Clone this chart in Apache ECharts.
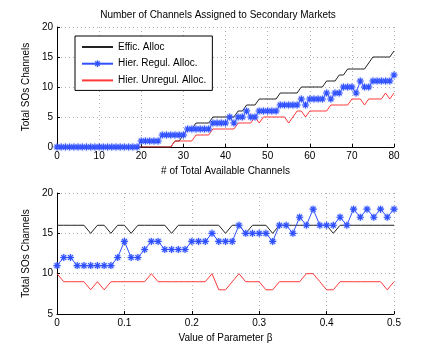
<!DOCTYPE html>
<html><head><meta charset="utf-8">
<script src="https://cdn.jsdelivr.net/npm/echarts@6/dist/echarts.min.js"></script>
<style>html,body{margin:0;padding:0;background:#fff}#c{width:436px;height:354px}</style>
</head><body><div id="c"></div>
<script>
// ---- Data ----
var titleText = 'Number of Channels Assigned to Secondary Markets';
var seriesNames = ['Effic. Alloc', 'Hier. Regul. Alloc.', 'Hier. Unregul. Alloc.'];

// Top panel: x = number of total available channels (0..80)
var topEffic = [0,0,0,0,0,0,0,0,0,0, 0,0,0,0,0,0,0,0,0,0, 0,0,0,0,0,0,0,0,1,1,
  2,3,3,4,4,4,4,5,5,5, 5,5,5,6,6,7,7,7,8,8, 8,8,8,9,9,9,9,9,10,10,
  10,10,10,10,11,11,11,12,12,13, 13,13,13,13,14,15,15,15,15,15, 16];
var topRegul = [0,0,0,0,0,0,0,0,0,0, 0,0,0,0,0,0,0,0,0,0, 1,1,1,1,1,2,2,2,2,2,
  2,3,3,3,3,3,3,4,4,4, 4,5,4,5,5,6,5,5,6,6, 6,6,6,7,7,7,7,7,8,7,
  8,8,8,8,9,8,9,9,10,10, 10,9,11,10,10,11,11,11,11,11, 12];
var topUnreg = [0,0,0,0,0,0,0,0,0,0, 0,0,0,0,0,0,0,0,0,0, 0,0,0,0,0,0,0,0,1,1,
  1,1,1,2,2,2,2,3,3,3, 3,3,3,4,4,4,4,5,4,5, 5,5,5,5,5,4,5,6,6,5,
  6,6,6,6,6,7,7,7,7,7, 8,8,8,7,8,8,8,8,9,8, 9];

// Bottom panel: x = value of parameter beta (0..0.5 step 0.01)
var botEffic = [16,16,16,16,16,15,16,16,15,16, 16,15,16,16,16,16,16,15,16,16,
  16,16,16,16,16,15,16,16,15,16, 16,16,15,16,16,16,16,16,16,16, 16,15,16,16,16,16,16,16,16,16, 16];
var botRegul = [11,12,12,11,11,11,11,11,11,12, 14,12,12,13,14,14,13,13,13,13,
  14,14,14,15,14,14,14,16,15,15, 15,15,14,16,16,15,17,16,18,16, 16,16,17,16,18,17,18,17,18,17, 18];
var botUnreg = [10,9,9,9,9,8,9,8,9,9, 9,9,9,9,10,9,9,9,9,9,
  9,9,9,10,8,8,9,10,9,9, 9,8,8,9,9,9,9,10,10,9, 8,8,9,9,9,9,9,9,9,8, 9];
var betaStep = 0.01;

var topXTicks = {min: 0, max: 80, interval: 10};
var topYTicks = {min: 0, max: 20, interval: 5};
var botXTicks = {min: 0, max: 0.5, interval: 0.1};
var botYTicks = {min: 5, max: 20, interval: 5};

var topXName = '# of Total Available Channels';
var botXName = 'Value of Parameter \u03b2';
var yName = 'Total SOs Channels';

// ---- Build ----
function pairs(arr, step) { return arr.map(function (v, i) { return [+(i * step).toFixed(4), v]; }); }

var FONT = 'Liberation Sans';
var colBlack = '#222222', colBlue = '#3050ff', colRed = '#ff3838';
var star = 'path://M0,5L10,5M5,0L5,10M1.5,1.5L8.5,8.5M8.5,1.5L1.5,8.5';
var noMark = {color: 'rgba(0,0,0,0)', borderColor: 'rgba(0,0,0,0)', borderWidth: 0};
var starStyle = {color: 'none', borderColor: colBlue, borderWidth: 1.1, shadowBlur: 2, shadowColor: 'rgba(110,140,255,0.7)'};

function xAxis(grid, t, name, labelFmt) {
  return {
    type: 'value', gridIndex: grid, min: t.min, max: t.max, interval: t.interval,
    name: name, nameLocation: 'middle', nameGap: 19,
    nameTextStyle: {fontFamily: FONT, fontSize: 10, color: '#000'},
    axisLine: {show: true, onZero: false, lineStyle: {color: '#000', width: 1}},
    axisTick: {show: true, inside: true, length: 3, lineStyle: {color: '#000'}},
    axisLabel: {fontFamily: FONT, fontSize: 10, color: '#000', margin: 4, formatter: labelFmt},
    splitLine: {show: true, lineStyle: {color: '#b0b0b0', type: [1, 3], width: 1}}
  };
}
function yAxis(grid, t) {
  return {
    type: 'value', gridIndex: grid, min: t.min, max: t.max, interval: t.interval,
    name: yName, nameLocation: 'middle', nameGap: 17,
    nameTextStyle: {fontFamily: FONT, fontSize: 10, color: '#000'},
    axisLine: {show: true, onZero: false, lineStyle: {color: '#000', width: 1}},
    axisTick: {show: true, inside: true, length: 3, lineStyle: {color: '#000'}},
    axisLabel: {fontFamily: FONT, fontSize: 10, color: '#000', margin: 4},
    splitLine: {show: true, lineStyle: {color: '#b0b0b0', type: [1, 3], width: 1}}
  };
}
function lines(xi, effic, regul, unreg, step) {
  return [
    {name: seriesNames[0], type: 'line', xAxisIndex: xi, yAxisIndex: xi, data: pairs(effic, step),
     symbol: 'none', lineStyle: {color: colBlack, width: 1}, itemStyle: {color: colBlack}, animation: false, z: 2},
    {name: seriesNames[1], type: 'line', xAxisIndex: xi, yAxisIndex: xi, data: pairs(regul, step),
     symbol: star, symbolSize: 7, showSymbol: true,
     lineStyle: {color: colBlue, width: 1},
     itemStyle: starStyle,
     animation: false, z: 3},
    {name: seriesNames[2], type: 'line', xAxisIndex: xi, yAxisIndex: xi, data: pairs(unreg, step),
     symbol: 'none', lineStyle: {color: colRed, width: 1}, itemStyle: {color: colRed}, animation: false, z: 2}
  ];
}

var chart = echarts.init(document.getElementById('c'), null, {renderer: 'canvas'});
chart.setOption({
  backgroundColor: '#fff',
  animation: false,
  title: {text: titleText, left: 'center', top: 5, textStyle: {fontFamily: FONT, fontSize: 10, fontWeight: 'normal', color: '#000'}},
  legend: {
    data: [
      {name: seriesNames[0], itemStyle: noMark},
      {name: seriesNames[1], itemStyle: starStyle},
      {name: seriesNames[2], itemStyle: noMark}
    ],
    left: 75, top: 36, orient: 'vertical',
    borderColor: '#000', borderWidth: 1, padding: [6, 6, 5, 6], backgroundColor: '#fff',
    itemWidth: 31, itemHeight: 8, itemGap: 6,
    textStyle: {fontFamily: FONT, fontSize: 10, color: '#000'}
  },
  grid: [
    {left: 57, top: 27, width: 337, height: 120, containLabel: false},
    {left: 57, top: 193, width: 337, height: 121, containLabel: false}
  ],
  xAxis: [xAxis(0, topXTicks, topXName), xAxis(1, botXTicks, botXName, function (v) { return String(+v.toFixed(2)); })],
  yAxis: [yAxis(0, topYTicks), yAxis(1, botYTicks)],
  series: lines(0, topEffic, topRegul, topUnreg, 1).concat(lines(1, botEffic, botRegul, botUnreg, betaStep))
});
</script></body></html>
